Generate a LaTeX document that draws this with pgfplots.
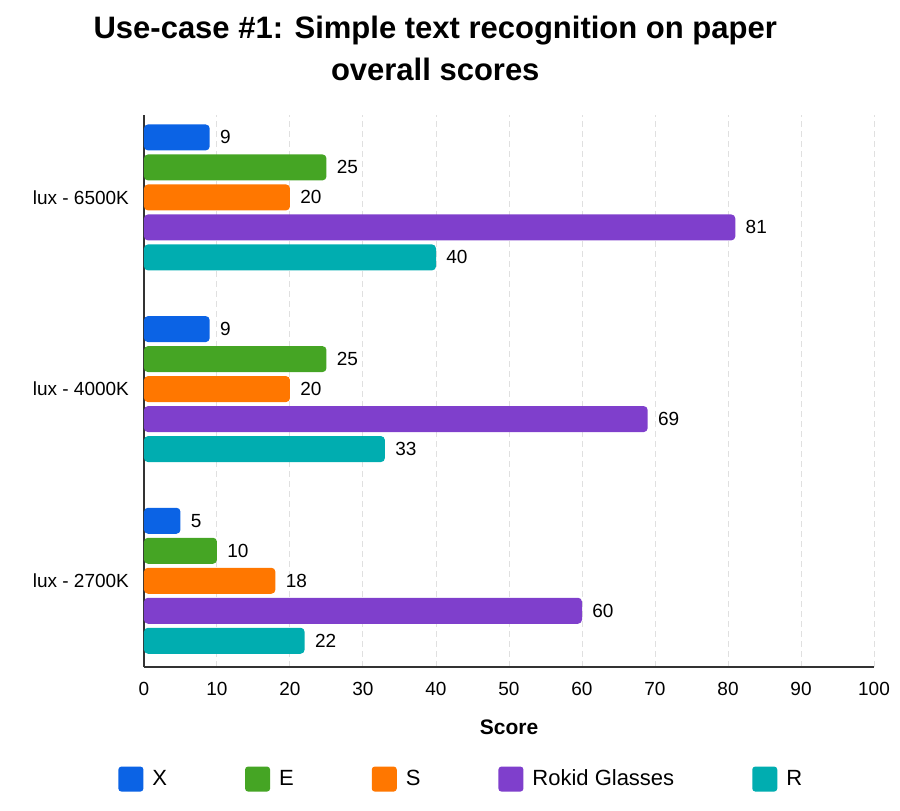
\documentclass[border=0pt]{standalone}
\usepackage{fontspec}
\setmainfont{Liberation Sans}
\usepackage{pgfplots}
\pgfplotsset{compat=1.18}
\definecolor{cX}{HTML}{0B63E5}
\definecolor{cE}{HTML}{45A524}
\definecolor{cS}{HTML}{FF7700}
\definecolor{cR}{HTML}{7F3FCC}
\definecolor{cT}{HTML}{00ADB0}
\begin{document}
\begin{tikzpicture}
\begin{axis}[
  name=ax,
  scale only axis,
  width=365pt, height=276pt,
  xbar,
  bar width=13pt,
  xmin=0, xmax=100,
  ymin=-0.45, ymax=2.43,
  xtick={0,10,...,100},
  ytick={0,1,2},
  yticklabels={lux - 2700K, lux - 4000K, lux - 6500K},
  axis lines*=left,
  axis line style={black!80, line width=0.9pt},
  major tick length=0pt,
  xmajorgrids,
  major grid style={densely dashed, black!12, line width=0.5pt},
  /pgf/number format/assume math mode=true,
  tick label style={font=\fontsize{9.5}{11}\selectfont},
  xticklabel style={yshift=-4pt},
  yticklabel style={xshift=-4pt},
  xlabel={Score},
  xlabel style={font=\bfseries\fontsize{10.5}{12}\selectfont, at={(axis description cs:0.5,0)}, anchor=center, yshift=-30pt},
  title={Use-case \#1: Simple text recognition on paper\\overall scores},
  title style={font=\bfseries\fontsize{15.5}{21}\selectfont, align=center, at={(axis description cs:0.399,1)}, anchor=south, inner sep=0pt, yshift=11pt},
  nodes near coords,
  every node near coord/.append style={font=\fontsize{9.5}{11}\selectfont, inner sep=0pt, xshift=5pt, text=black},
  legend columns=5,
  legend style={draw=none, at={(axis description cs:0.436,-0.203)}, anchor=center, font=\fontsize{11}{13}\selectfont,
    /tikz/every even column/.append style={column sep=37pt}},
  legend image code/.code={\fill[#1, rounded corners=1.5pt] (0pt,-6.25pt) rectangle (12.5pt,6.25pt); \path (15pt,0pt);},
]
\addplot[fill=cX, draw=none, rounded corners=2pt, bar shift=30pt] coordinates {(5,0) (9,1) (9,2)};
\addplot[fill=cE, draw=none, rounded corners=2pt, bar shift=15pt] coordinates {(10,0) (25,1) (25,2)};
\addplot[fill=cS, draw=none, rounded corners=2pt, bar shift=0pt] coordinates {(18,0) (20,1) (20,2)};
\addplot[fill=cR, draw=none, rounded corners=2pt, bar shift=-15pt] coordinates {(60,0) (69,1) (81,2)};
\addplot[fill=cT, draw=none, rounded corners=2pt, bar shift=-30pt] coordinates {(22,0) (33,1) (40,2)};
\legend{X, E, S, Rokid Glasses, R}
\end{axis}
\pgfresetboundingbox
\path (ax.south west) ++(-72pt,-71.5pt) rectangle ++(450pt,405pt);
\end{tikzpicture}
\end{document}
